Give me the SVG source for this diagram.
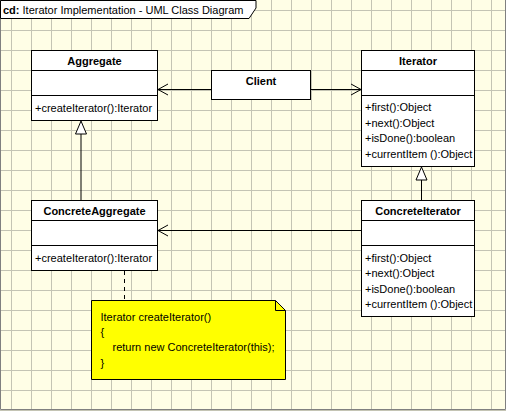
<svg xmlns="http://www.w3.org/2000/svg" width="506" height="411" viewBox="0 0 506 411">
<style>
text{font-family:"Liberation Sans",Arial,sans-serif;font-size:11px;fill:#000}
.b{font-weight:bold}
.c{text-anchor:middle}
.box{fill:#fff;stroke:#000;stroke-width:1}
.ln{fill:none;stroke:#000;stroke-width:1}
</style>
<defs>
<pattern id="grid" width="20" height="20" patternUnits="userSpaceOnUse">
<rect width="20" height="20" fill="#fffee6"/>
<path d="M11.5,0V20M0,10.5H20" stroke="#c4c4b4" stroke-width="1"/>
</pattern>
</defs>
<rect x="0" y="0" width="506" height="411" fill="url(#grid)"/>
<path d="M0.5,0V409.5H505.5V0" fill="none" stroke="#808080"/>
<g id="title">
<path d="M0.5,0.5H256V8L249,18.5H0.5Z" fill="#fff" stroke="#000"/>
<text x="3" y="14"><tspan class="b">cd:</tspan> Iterator Implementation - UML Class Diagram</text>
</g>
<g id="connectors">
<path class="ln" d="M211,89.5H158M168,84L158,89.5L168,95"/>
<path class="ln" d="M311,89.5H361M351,84L361,89.5L351,95"/>
<path class="ln" d="M81,200V134"/>
<path d="M81,121L75.5,134H86.5Z" fill="#fff" stroke="#000"/>
<path class="ln" d="M421.5,200V180"/>
<path d="M421.5,167L416,180H427Z" fill="#fff" stroke="#000"/>
<path class="ln" d="M361,230.5H158M168,225L158,230.5L168,236"/>
<path class="ln" d="M124.5,271V300" stroke-dasharray="4,4"/>
</g>
<g id="Aggregate">
<rect class="box" x="31.5" y="50.5" width="126" height="70"/>
<path class="ln" d="M31.5,70.5H157.5M31.5,95.5H157.5"/>
<text class="b c" x="94.5" y="65">Aggregate</text>
<text x="35" y="111.5">+createIterator():Iterator</text>
</g>
<g id="Client">
<rect class="box" x="211.5" y="70.5" width="99" height="29"/>
<text class="b c" x="261" y="84.5">Client</text>
</g>
<g id="Iterator">
<rect class="box" x="361.5" y="50.5" width="113" height="116"/>
<path class="ln" d="M361.5,70.5H474.5M361.5,95.5H474.5"/>
<text class="b c" x="418" y="65">Iterator</text>
<text x="365" y="111">+first():Object</text>
<text x="365" y="126.5">+next():Object</text>
<text x="365" y="142">+isDone():boolean</text>
<text x="365" y="157.5">+currentItem ():Object</text>
</g>
<g id="ConcreteAggregate">
<rect class="box" x="31.5" y="200.5" width="126" height="70"/>
<path class="ln" d="M31.5,220.5H157.5M31.5,245.5H157.5"/>
<text class="b c" x="94.5" y="215">ConcreteAggregate</text>
<text x="35" y="261.5">+createIterator():Iterator</text>
</g>
<g id="ConcreteIterator">
<rect class="box" x="361.5" y="200.5" width="113" height="116"/>
<path class="ln" d="M361.5,220.5H474.5M361.5,245.5H474.5"/>
<text class="b c" x="418" y="215">ConcreteIterator</text>
<text x="365" y="261.5">+first():Object</text>
<text x="365" y="277">+next():Object</text>
<text x="365" y="292.5">+isDone():boolean</text>
<text x="365" y="308">+currentItem ():Object</text>
</g>
<g id="note">
<path d="M91.5,300.5H275.5L285.5,310.5V379.5H91.5Z" fill="#ffff00" stroke="#000"/>
<path class="ln" d="M275.5,300.5V310.5H285.5"/>
<text x="100.5" y="320.5">Iterator createIterator()</text>
<text x="100.5" y="336">{</text>
<text x="112.5" y="351">return new ConcreteIterator(this);</text>
<text x="100.5" y="366.5">}</text>
</g>
</svg>
